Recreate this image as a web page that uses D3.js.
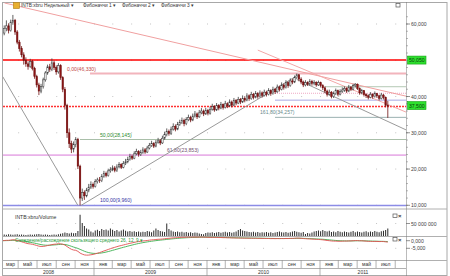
<!DOCTYPE html>
<html><head><meta charset="utf-8">
<script src="https://cdn.jsdelivr.net/npm/d3@7"></script>
<style>body{margin:0;background:#fff}svg{display:block;font-family:"Liberation Sans",Arial,sans-serif}</style>
</head><body><svg id="c" width="450" height="276"></svg>
<script>
// ---------- DATA (weekly, starting Mon 10 Mar 2008) ----------
const startDate = new Date(2008, 2, 10);
const closes = [57.5,58.8,59.5,58.2,60.5,61.0,57.8,55.0,53.2,51.5,50.0,49.0,48.3,49.6,47.8,45.5,43.2,41.5,42.8,44.6,
46.5,48.2,47.5,49.3,48.0,46.8,48.5,45.2,42.0,37.5,30.0,27.0,25.5,26.8,28.2,20.8,12.0,13.5,12.6,14.2,
15.0,15.8,15.2,16.5,17.0,16.8,18.0,18.8,18.2,19.5,19.8,20.3,19.6,20.6,21.2,20.5,21.5,22.0,22.6,23.5,
23.0,24.2,24.8,24.0,24.6,25.3,24.7,25.8,26.5,27.0,26.3,27.4,27.8,27.2,28.5,29.5,30.4,29.8,31.0,31.8,
31.0,32.3,32.8,33.4,32.5,33.6,34.2,33.5,34.6,35.2,34.4,35.5,36.0,35.2,36.2,35.4,36.5,37.2,36.3,37.5,
36.8,37.8,37.0,38.0,37.4,38.5,37.6,38.9,38.2,39.2,38.5,39.5,39.0,40.2,39.4,40.6,39.8,40.8,40.0,41.0,
40.3,41.2,40.6,41.6,40.8,42.0,41.3,42.6,42.0,43.2,42.5,43.8,43.0,44.3,44.0,45.2,46.0,44.8,44.0,43.2,
43.8,43.4,44.2,43.6,43.9,43.2,43.8,43.0,42.4,41.5,40.6,41.2,40.0,40.8,41.6,40.6,41.4,41.8,42.2,41.5,
42.6,42.0,43.0,43.4,42.2,41.0,41.6,40.5,40.2,39.8,40.6,40.0,40.8,40.2,39.5,40.4,39.8,37.6,37.4];
const firstOpen = 56.5;
const highs = [60.0,59.6,61.0,60.2,61.2,62.5,61.4,58.3,55.6,53.9,52.2,50.8,49.7,50.4,50.1,48.2,46.0,43.8,43.5,45.2,
47.0,48.8,49.0,50.5,49.9,48.6,49.2,48.9,45.6,42.6,38.0,31.2,27.8,27.6,28.8,28.6,21.2,14.6,14.1,14.8,
15.9,16.6,16.3,17.2,17.6,17.8,18.6,19.5,19.3,20.1,20.5,21.0,20.8,21.3,21.9,21.6,22.2,22.8,23.4,24.2,
24.0,24.9,25.6,25.2,25.3,26.0,25.8,26.4,27.2,27.8,27.4,28.0,28.6,28.3,29.2,30.3,31.2,30.9,31.7,32.6,
32.3,33.0,33.6,34.2,33.9,34.3,35.0,34.7,35.3,36.0,35.6,36.3,36.8,36.4,36.9,36.6,37.2,38.0,37.6,38.2,
37.9,38.5,38.1,38.8,38.4,39.2,38.9,39.6,39.3,39.9,39.6,40.3,40.0,40.9,40.6,41.3,41.0,41.5,41.2,41.7,
41.4,41.9,41.6,42.3,42.0,42.7,42.4,43.3,43.0,43.9,43.6,44.5,44.2,45.0,44.9,45.8,46.33,46.2,45.3,44.4,
44.5,44.2,44.8,44.6,44.5,44.2,44.4,44.1,43.4,42.8,41.9,41.9,41.5,41.4,42.2,41.9,42.0,42.5,42.8,42.5,
43.2,42.9,43.5,43.7,43.6,42.5,42.1,41.8,40.9,40.6,41.2,40.9,41.4,41.0,40.5,41.0,40.7,40.0,38.8];
const lows = [55.8,56.9,58.0,57.4,57.9,59.8,57.0,54.4,52.4,50.8,48.8,48.2,47.4,47.9,47.2,44.9,42.5,40.4,40.9,42.2,
44.1,46.0,46.8,47.0,47.3,46.0,46.3,44.6,41.2,36.4,28.6,25.8,24.4,24.6,26.0,20.0,9.96,11.2,11.5,12.2,
13.6,14.5,14.6,14.9,16.0,16.2,16.4,17.6,17.7,17.9,19.0,19.4,19.1,19.2,20.2,20.0,20.2,21.1,21.6,22.3,
22.5,22.7,23.8,23.4,23.6,24.2,24.2,24.4,25.4,26.1,25.8,26.0,27.0,26.6,26.9,28.1,29.0,29.2,29.4,30.6,
30.4,30.7,31.9,32.4,31.8,32.1,33.2,32.9,33.2,34.2,33.8,34.1,35.1,34.6,34.9,34.8,35.0,36.1,35.8,36.0,
36.2,36.5,36.4,36.7,36.8,37.1,37.0,37.3,37.6,37.9,37.9,38.2,38.4,38.7,38.8,39.1,39.2,39.5,39.4,39.7,
39.7,40.0,40.0,40.3,40.2,40.5,40.7,41.0,41.4,41.7,41.9,42.2,42.4,42.7,43.4,43.7,44.8,44.2,43.4,42.6,
42.8,42.9,43.0,43.0,43.1,42.7,42.9,42.5,41.8,40.9,40.0,40.2,39.5,39.6,40.4,40.1,40.3,41.0,41.3,41.0,
41.2,41.5,41.7,42.5,41.8,40.5,40.6,40.0,39.6,39.2,39.5,39.4,39.7,39.6,38.9,39.2,39.2,37.0,34.1];
const volumes = [5,6,5,7,6,5,6,7,5,6,5,4,5,6,5,6,7,8,6,5,6,5,4,5,6,5,7,9,11,14,12,10,13,11,12,20,85,52,40,30,
26,18,14,22,25,20,28,24,26,22,30,25,20,24,18,22,26,21,18,20,17,19,16,18,15,17,16,20,18,15,
22,30,24,20,18,16,50,28,22,18,16,18,15,17,14,16,13,15,12,14,13,10,8,7,12,14,13,15,12,14,
16,13,15,17,14,16,13,15,18,24,28,22,20,18,16,15,17,14,16,13,15,14,16,13,15,12,14,16,18,15,
14,16,13,15,18,20,17,15,13,16,8,12,10,14,18,20,22,19,24,20,18,21,16,18,15,20,17,15,18,16,
14,17,20,15,18,16,14,17,19,15,18,16,20,17,15,19,21,24,30]; // millions

const priceTicks = [60, 50, 40, 30, 20, 10];
const priceTickLabels = ["60,000","50,000","40,000","30,000","20,000","10,000"];
const markerLevels = [50.05, 37.5];
const markerLabels = ["50,050","37,500"];
// Fibonacci 1 (from 46,330 to 9,960)
const fibLevels = [46.33, 28.145, 23.853, 9.96];
const fibTexts = ["0,00(46,330)","50,00(28,145)","61,80(23,853)","100,00(9,960)"];
// Fibonacci 2 levels (right part)
const fib2Levels = [42.7, 40.9, 39.0, 34.257];
const fib2Texts = ["","","","161,80(34,257)"];
const monthNames = ["янв","фев","мар","апр","май","июн","июл","авг","сен","окт","ноя","дек"];
const years = [2008, 2009, 2010, 2011];
const legendItems = ["INTB:xbru Недельный ▾","Фибоначчи 1 ▾","Фибоначчи 2 ▾","Фибоначчи 3 ▾"];

// ---------- LAYOUT ----------
const L = 3, R = 406, AX = 447;
const mainTop = 2, mainBot = 208.5, volBot = 236, macdBot = 260, monBot = 268, H = 276;
const svg = d3.select("#c");
const dates = closes.map((c,i)=>d3.timeDay.offset(startDate, 7*i));
const x = d3.scaleTime().domain([new Date(2009,0,1), new Date(2011,0,1)]).range([94, 320]);
const y = d3.scaleLinear().domain([10, 60]).range([205.3, 24]);
const yv = d3.scaleLinear().domain([0, 50]).range([volBot, 223.5]);
const ym = d3.scaleLinear().domain([-5, 0]).range([248.3, 240.7]);
const FONT = 5.1;

const defs = svg.append("defs");
defs.append("clipPath").attr("id","cm").append("rect").attr("x",L).attr("y",mainTop).attr("width",R-L).attr("height",mainBot-mainTop);
defs.append("clipPath").attr("id","cv").append("rect").attr("x",L).attr("y",mainBot).attr("width",R-L).attr("height",volBot-mainBot);
defs.append("clipPath").attr("id","cmacd").append("rect").attr("x",L).attr("y",volBot).attr("width",R-L).attr("height",macdBot-volBot);

// frame
svg.append("rect").attr("x",2.5).attr("y",2.5).attr("width",AX-2.5).attr("height",H-3).attr("fill","none").attr("stroke","#a8a8a8");
[mainBot, volBot, macdBot].forEach(v=>svg.append("line").attr("x1",2.5).attr("x2",AX).attr("y1",v+0.5).attr("y2",v+0.5).attr("stroke","#b0b0b0"));
svg.append("line").attr("x1",2.5).attr("x2",R).attr("y1",monBot+0.5).attr("y2",monBot+0.5).attr("stroke","#b0b0b0");
svg.append("line").attr("x1",R+0.5).attr("x2",R+0.5).attr("y1",2.5).attr("y2",H).attr("stroke","#777").attr("stroke-dasharray","1,1");

// grid dots at 2-month boundaries
const gridMonths = d3.timeMonth.every(2).range(new Date(2008,0,1), new Date(2011,11,1)).filter(d=>x(d)>L && x(d)<R);
const gm = svg.append("g").attr("fill","#c4c4c4");
priceTicks.forEach(p=>gridMonths.forEach(d=>gm.append("rect").attr("x",x(d)).attr("y",y(p)-0.5).attr("width",1).attr("height",1)));
gridMonths.forEach(d=>{gm.append("rect").attr("x",x(d)).attr("y",yv(50)-0.5).attr("width",1).attr("height",1);
  gm.append("rect").attr("x",x(d)).attr("y",ym(-5)-0.5).attr("width",1).attr("height",1);});

// ---------- MAIN PANE ----------
const gMain = svg.append("g").attr("clip-path","url(#cm)");
const fibStyle = [
  {c:"#f2b4bc", w:2, x0:90, tc:"#c04848", tx:67, dy:-3},
  {c:"#a9bfa9", w:1, x0:80, tc:"#2e8b2e", tx:100, dy:-3},
  {c:"#d878d8", w:1, x0:L, tc:"#705070", tx:167, dy:-3},
  {c:"#8c8ce6", w:1.5, x0:L, tc:"#3535a5", tx:100, dy:-3}
];
fibLevels.forEach((v,i)=>{
  const s=fibStyle[i];
  gMain.append("line").attr("x1",s.x0).attr("x2",R).attr("y1",y(v)).attr("y2",y(v)).attr("stroke",s.c).attr("stroke-width",s.w);
  gMain.append("text").attr("x",s.tx).attr("y",y(v)+s.dy).attr("font-size",FONT).attr("fill",s.tc).text(fibTexts[i]);
});
const fib2Style = [
  {c:"#b4c8b4", x0:325, dash:null},
  {c:"#f0a8c4", x0:275, dash:"1,1"},
  {c:"#a8a8e4", x0:275, dash:null},
  {c:"#9ab0b0", x0:275, dash:null}
];
fib2Levels.forEach((v,i)=>{
  const s=fib2Style[i];
  gMain.append("line").attr("x1",s.x0).attr("x2",R).attr("y1",y(v)).attr("y2",y(v)).attr("stroke",s.c).attr("stroke-dasharray",s.dash);
  if(fib2Texts[i]) gMain.append("text").attr("x",260).attr("y",y(v)-3).attr("font-size",FONT).attr("fill","#6a8a8e").text(fib2Texts[i]);
});
// red marker lines
gMain.append("line").attr("x1",L).attr("x2",R).attr("y1",y(markerLevels[0])).attr("y2",y(markerLevels[0])).attr("stroke","#ff0000").attr("stroke-width",1.5);
const y375 = Math.round(y(markerLevels[1]))+0.5;
gMain.append("line").attr("x1",L).attr("x2",R).attr("y1",y375).attr("y2",y375)
  .attr("stroke","#ff3030").attr("stroke-width",1.3).attr("stroke-dasharray","2,1");

// trend lines (date, price) pairs
const trendLines = [
  {a:[new Date(2008,2,18),65.8], b:[new Date(2011,9,6),40.1], c:"#f0a0a0"},
  {a:[new Date(2010,5,14),52.8], b:[new Date(2011,9,6),35.7], c:"#f2a8a8"},
  {a:[new Date(2008,2,12),45.5], b:[new Date(2008,10,10),9.96], c:"#9a9a9a"},
  {a:[new Date(2008,10,20),9.96], b:[new Date(2010,9,18),45.7], c:"#9a9a9a"},
  {a:[new Date(2010,9,18),44.7], b:[new Date(2011,9,6),30.8], c:"#9a9a9a"}
];
trendLines.forEach(t=>gMain.append("line").attr("x1",x(t.a[0])).attr("y1",y(t.a[1])).attr("x2",x(t.b[0])).attr("y2",y(t.b[1])).attr("stroke",t.c).attr("stroke-width",1));

// candles
const cw = 1.5;
const gC = gMain.append("g");
closes.forEach((c,i)=>{
  const o = i===0?firstOpen:closes[i-1];
  const cx = x(dates[i]);
  const up = c>=o;
  gC.append("line").attr("x1",cx).attr("x2",cx).attr("y1",y(highs[i])).attr("y2",y(lows[i])).attr("stroke",up?"#3a3a3a":"#6e1010").attr("stroke-width",0.8);
  const top=y(Math.max(o,c)), bot=y(Math.min(o,c));
  gC.append("rect").attr("x",cx-cw/2).attr("y",top).attr("width",cw).attr("height",Math.max(0.8,bot-top))
    .attr("fill",up?"#f4f4f4":"#8c1515").attr("stroke",up?"#3a3a3a":"#6e1010").attr("stroke-width",0.5);
});

// legend
svg.append("rect").attr("x",13.5).attr("y",2.5).attr("width",6).attr("height",6).attr("fill","#e8b030").attr("stroke","#b07810").attr("stroke-width",0.6);
const legendX = [21, 83, 122, 161];
legendItems.forEach((t,i)=>svg.append("text").attr("x",legendX[i]).attr("y",7.4).attr("font-size",4.8).attr("fill","#333").text(t));
function winIcon(xx,yy,cross){
  svg.append("rect").attr("x",xx).attr("y",yy).attr("width",4).attr("height",3.5).attr("fill","#fff").attr("stroke","#555").attr("stroke-width",0.7);
  if(cross) svg.append("text").attr("x",xx+5).attr("y",yy+4).attr("font-size",6).attr("font-weight","bold").attr("fill","#333").text("×");
}
winIcon(396,3.5,false);
winIcon(393,214,true);
winIcon(393,237.5,true);

// right axis (price)
const gA = svg.append("g");
d3.range(10,64,2).forEach(v=>gA.append("line").attr("x1",R).attr("x2",R+2).attr("y1",y(v)).attr("y2",y(v)).attr("stroke","#888").attr("stroke-width",0.6));
priceTicks.forEach((v,i)=>{
  if(v===50) return;
  gA.append("line").attr("x1",R).attr("x2",R+4).attr("y1",y(v)).attr("y2",y(v)).attr("stroke","#666").attr("stroke-width",0.7);
  gA.append("text").attr("x",R+5).attr("y",y(v)+2).attr("font-size",FONT).attr("fill","#444").text(priceTickLabels[i]);
});
markerLevels.forEach((v,i)=>{
  gA.append("rect").attr("x",R+1.5).attr("y",y(v)-4).attr("width",18.5).attr("height",8).attr("fill","#2ee02e").attr("stroke","#14a014").attr("stroke-width",0.6);
  gA.append("text").attr("x",R+3).attr("y",y(v)+2).attr("font-size",FONT).attr("fill","#0a3a0a").text(markerLabels[i]);
});

// ---------- VOLUME PANE ----------
const gV = svg.append("g").attr("clip-path","url(#cv)");
volumes.forEach((v,i)=>{
  const cx=x(dates[i]);
  gV.append("rect").attr("x",cx-0.5).attr("y",yv(v)).attr("width",1).attr("height",yv(0)-yv(v)).attr("fill","#2a2a2a");
});
svg.append("text").attr("x",15).attr("y",219).attr("font-size",FONT).attr("fill","#333").text("INTB:xbru/Volume");
gA.append("line").attr("x1",R).attr("x2",R+4).attr("y1",yv(50)).attr("y2",yv(50)).attr("stroke","#666").attr("stroke-width",0.7);
gA.append("text").attr("x",R+5).attr("y",yv(50)+2).attr("font-size",FONT).attr("fill","#444").text("50 000 000");

// ---------- MACD PANE ----------
function ema(arr,n){const k=2/(n+1);const out=[];arr.forEach((v,i)=>out.push(i===0?v:v*k+out[i-1]*(1-k)));return out;}
const e12=ema(closes,12), e26=ema(closes,26);
const macd=e12.map((v,i)=>v-e26[i]);
const sig=ema(macd,9);
const gM = svg.append("g").attr("clip-path","url(#cmacd)");
const ln = d3.line().x((d,i)=>x(dates[i])).y(d=>ym(d));
gM.append("path").attr("d",ln(sig)).attr("fill","none").attr("stroke","#3cb050").attr("stroke-width",0.9);
gM.append("path").attr("d",ln(macd)).attr("fill","none").attr("stroke","#e05050").attr("stroke-width",0.9);
svg.append("text").attr("x",15).attr("y",241.5).attr("font-size",4.7).attr("fill","#2a9a3a").text("Схождение/расхождение скользящего среднего 26, 12, 9 ▾");
[[0,"0,000"],[-5,"-5,000"]].forEach(t=>{
  gA.append("line").attr("x1",R).attr("x2",R+4).attr("y1",ym(t[0])).attr("y2",ym(t[0])).attr("stroke","#666").attr("stroke-width",0.7);
  gA.append("text").attr("x",R+5).attr("y",ym(t[0])+2).attr("font-size",FONT).attr("fill","#444").text(t[1]);
});

// ---------- TIME AXIS ----------
const gT = svg.append("g");
const cells = d3.timeMonth.every(2).range(new Date(2008,0,1), new Date(2012,0,1));
cells.forEach(d=>{
  const x0=x(d), x1=x(d3.timeMonth.offset(d,2));
  if(x1<=L || x0>=R) return;
  const a=Math.max(x0,L), b=Math.min(x1,R);
  if(x0>L) gT.append("line").attr("x1",x0).attr("x2",x0).attr("y1",macdBot).attr("y2",monBot).attr("stroke","#909090").attr("stroke-width",0.7);
  if(x1<=R) gT.append("text").attr("x",(a+b)/2).attr("y",266).attr("text-anchor","middle").attr("font-size",5).attr("fill","#333").text(monthNames[d.getMonth()]);
});
years.forEach(yr=>{
  const x0=x(new Date(yr,0,1)), x1=x(new Date(yr+1,0,1));
  const a=Math.max(x0,L), b=Math.min(x1,R);
  if(x0>L) gT.append("line").attr("x1",x0).attr("x2",x0).attr("y1",monBot).attr("y2",H).attr("stroke","#909090").attr("stroke-width",0.7);
  gT.append("text").attr("x",(a+b)/2).attr("y",274).attr("text-anchor","middle").attr("font-size",5).attr("fill","#333").text(yr);
});
</script></body></html>
